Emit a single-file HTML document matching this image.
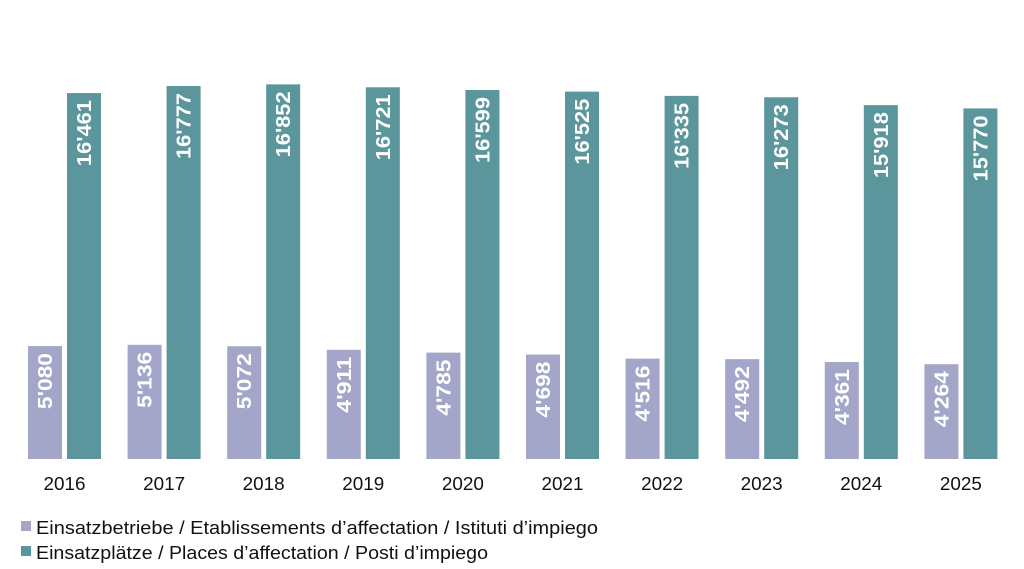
<!DOCTYPE html>
<html><head><meta charset="utf-8"><style>
html,body{margin:0;padding:0;background:#fff;width:1024px;height:569px;overflow:hidden}
svg{display:block;font-family:"Liberation Sans",sans-serif}
</style></head><body>
<svg width="1024" height="569" xmlns="http://www.w3.org/2000/svg">
<g id="bars"></g>
<rect x="21" y="521" width="10" height="10" fill="#a3a6c8"/>
<text x="36" y="534" font-size="18" fill="#111" textLength="562" lengthAdjust="spacingAndGlyphs">Einsatzbetriebe / Etablissements d’affectation / Istituti d’impiego</text>
<rect x="21" y="546" width="10" height="10" fill="#5a969c"/>
<text x="36" y="559" font-size="18" fill="#111" textLength="452" lengthAdjust="spacingAndGlyphs">Einsatzplätze / Places d’affectation / Posti d’impiego</text>
</svg>
<script>
var a=[5080,5136,5072,4911,4785,4698,4516,4492,4361,4264];
var b=[16461,16777,16852,16721,16599,16525,16335,16273,15918,15770];
var g=document.getElementById('bars'),s='',k=0.02223,base=459;
function f(v){var t=String(v);return t.length>3?t.slice(0,-3)+"'"+t.slice(-3):t;}
for(var i=0;i<10;i++){
 var x1=28+99.6*i,x2=67+99.6*i;
 var h1=a[i]*k,h2=b[i]*k;
 var l1=f(a[i]).length==5?54:0, l2=66;
 s+='<rect x="'+x1+'" y="'+(base-h1)+'" width="34" height="'+h1+'" fill="#a3a6c8"/>';
 s+='<rect x="'+x2+'" y="'+(base-h2)+'" width="34" height="'+h2+'" fill="#5a969c"/>';
 s+='<text transform="translate('+(x1+24)+','+(base-h1+7)+') rotate(-90)" text-anchor="end" font-size="20" font-weight="bold" fill="#fff" textLength="56" lengthAdjust="spacingAndGlyphs">'+f(a[i])+'</text>';
 s+='<text transform="translate('+(x2+24)+','+(base-h2+7)+') rotate(-90)" text-anchor="end" font-size="20" font-weight="bold" fill="#fff" textLength="66" lengthAdjust="spacingAndGlyphs">'+f(b[i])+'</text>';
 s+='<text x="'+(x1+36.5)+'" y="490" text-anchor="middle" font-size="18" fill="#111" textLength="42" lengthAdjust="spacingAndGlyphs">'+(2016+i)+'</text>';
}
g.innerHTML=s;
</script>
</body></html>
